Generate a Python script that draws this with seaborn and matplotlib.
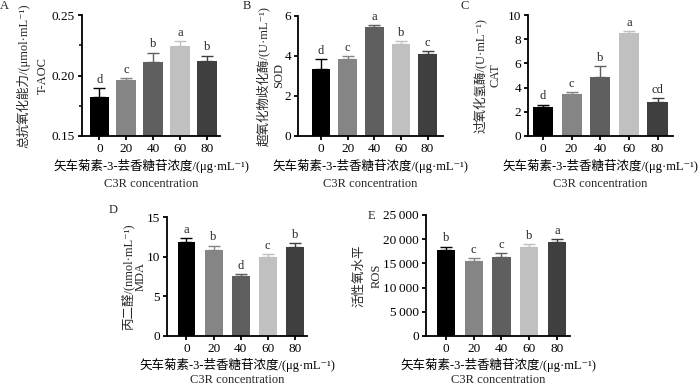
import numpy as np
import pandas as pd
import matplotlib
matplotlib.use('Agg')
import matplotlib.pyplot as plt
import seaborn as sns
from matplotlib.ticker import FuncFormatter, MultipleLocator, FixedLocator

# ---------------- data ----------------
conc = ['0', '20', '40', '60', '80']

tac = [0.182, 0.196, 0.211, 0.224, 0.212]
tac_err = [0.0075, 0.002, 0.008, 0.0045, 0.0045]
tac_sig = ['d', 'c', 'b', 'a', 'b']

sod = [3.33, 3.87, 5.47, 4.60, 4.08]
sod_err = [0.50, 0.13, 0.10, 0.13, 0.18]
sod_sig = ['d', 'c', 'a', 'b', 'c']

cat = [2.40, 3.45, 4.85, 8.50, 2.85]
cat_err = [0.20, 0.22, 0.90, 0.20, 0.25]
cat_sig = ['d', 'c', 'b', 'a', 'cd']

mda = [11.9, 10.8, 7.55, 9.95, 11.2]
mda_err = [0.50, 0.60, 0.25, 0.37, 0.50]
mda_sig = ['a', 'b', 'd', 'c', 'b']

ros = [17800, 15400, 16400, 18400, 19500]
ros_err = [690, 620, 690, 550, 620]
ros_sig = ['b', 'c', 'c', 'b', 'a']

ylab_cn = ['总抗氧化能力/(μmol·mL⁻¹)', '超氧化物歧化酶/(U·mL⁻¹)', '过氧化氢酶/(U·mL⁻¹)',
           '丙二醛/(nmol·mL⁻¹)', '活性氧水平']
ylab_en = ['T-AOC', 'SOD', 'CAT', 'MDA', 'ROS']
xlab_cn = '矢车菊素-3-芸香糖苷浓度/(μg·mL⁻¹)'
xlab_en = 'C3R concentration'
panel_letters = ['A', 'B', 'C', 'D', 'E']

colors = ['#000000', '#858585', '#5f5f5f', '#c0c0c0', '#3f3f3f']

# ---------------- style ----------------
sns.set_theme(style='ticks')
FAM = ['Liberation Serif', 'Noto Sans CJK SC', 'DejaVu Serif']
plt.rcParams['font.family'] = ['Liberation Serif']
plt.rcParams['axes.unicode_minus'] = False

W, H = 700, 387
fig = plt.figure(figsize=(W / 100, H / 100), dpi=100)

# pixel layouts: left, right, top, bottom ; xlim margins ; bar width
layout = [
    dict(l=82, r=220, t=15, b=136, xm=(0.65, 0.48), bw=0.74,
         ylim=(0.15, 0.25), ticks=[0.15, 0.20, 0.25], minor=0.025,
         fmt=lambda v, _: f'{v:.2f}', yl=(23, 43), lab=(4, 6), en=48, lp=3),
    dict(l=298, r=443, t=16, b=136, xm=(0.86, 0.58), bw=0.70,
         ylim=(0, 6), ticks=[0, 2, 4, 6], minor=None,
         fmt=lambda v, _: f'{v:g}', yl=(263, 279), lab=(247, 6), en=48, lp=3),
    dict(l=528, r=673, t=15, b=136, xm=(0.52, 0.54), bw=0.70,
         ylim=(0, 10), ticks=[0, 2, 4, 6, 8, 10], minor=None,
         fmt=lambda v, _: f'{v:g}', yl=(480, 496), lab=(465, 6), en=48, lp=3),
    dict(l=167, r=307, t=217, b=336, xm=(0.72, 0.45), bw=0.66,
         ylim=(0, 15), ticks=[0, 5, 10, 15], minor=None,
         fmt=lambda v, _: f'{v:g}', yl=(128, 141), lab=(113, 210), en=44, lp=2),
    dict(l=426, r=570, t=215, b=336, xm=(0.72, 0.47), bw=0.66,
         ylim=(0, 25000), ticks=[0, 5000, 10000, 15000, 20000, 25000], minor=None,
         fmt=lambda v, _: f'{int(v):,}'.replace(',', '\u2009'), yl=(359, 377), lab=(371, 216),
         en=44, lp=2),
]
series = [(tac, tac_err, tac_sig), (sod, sod_err, sod_sig), (cat, cat_err, cat_sig),
          (mda, mda_err, mda_sig), (ros, ros_err, ros_sig)]

LW = 1.3
for i, (lay, (vals, errs, sig)) in enumerate(zip(layout, series)):
    ax = fig.add_axes([lay['l'] / W, 1 - lay['b'] / H,
                       (lay['r'] - lay['l']) / W, (lay['b'] - lay['t']) / H])
    df = pd.DataFrame({'conc': conc, 'val': vals})
    sns.barplot(data=df, x='conc', y='val', order=conc, hue='conc', hue_order=conc,
                palette=colors, legend=False, width=lay['bw'], ax=ax,
                saturation=1, edgecolor='none', linewidth=0)
    xs = np.arange(len(conc))
    for xi, v, e, c in zip(xs, vals, errs, colors):
        ax.errorbar(xi, v, yerr=[[0], [e]], fmt='none', ecolor=c,
                    elinewidth=1.0, capsize=4, capthick=1.0)
        ax.annotate(sig[xi], (xi, v + e), xytext=(0, 1.5), textcoords='offset points',
                    ha='center', va='bottom', fontsize=9)
    ax.set_xlim(-lay['xm'][0], len(conc) - 1 + lay['xm'][1])
    ax.set_ylim(*lay['ylim'])
    ax.yaxis.set_major_locator(FixedLocator(lay['ticks']))
    ax.yaxis.set_major_formatter(FuncFormatter(lay['fmt']))
    if lay['minor']:
        ax.yaxis.set_minor_locator(MultipleLocator(lay['minor']))
        ax.tick_params(axis='y', which='minor', length=2.2, width=LW)
    ax.tick_params(axis='both', which='major', length=3, width=LW,
                   labelsize=9.5, pad=2, color='black', labelcolor='black')
    for s in ['top', 'right']:
        ax.spines[s].set_visible(False)
    for s in ['left', 'bottom']:
        ax.spines[s].set_linewidth(LW)
        ax.spines[s].set_color('black')
    ax.set_ylabel('')
    ax.set_xlabel(xlab_cn, fontsize=9, labelpad=lay['lp'], color='black', family=FAM)
    fig.text(((lay['l'] + lay['r']) / 2) / W, 1 - (lay['b'] + lay['en']) / H, xlab_en,
             ha='center', va='center', fontsize=9)
    ax.set_facecolor('none')

    yc = (lay['t'] + lay['b']) / 2
    fig.text(lay['yl'][0] / W, 1 - yc / H, ylab_cn[i], rotation=90, ha='center',
             va='center', fontsize=9, family=FAM)
    fig.text(lay['yl'][1] / W, 1 - yc / H, ylab_en[i], rotation=90, ha='center',
             va='center', fontsize=9)
    fig.text(lay['lab'][0] / W, 1 - lay['lab'][1] / H, panel_letters[i], ha='center',
             va='center', fontsize=9)

fig.savefig('out.png', dpi=100, facecolor='white')
